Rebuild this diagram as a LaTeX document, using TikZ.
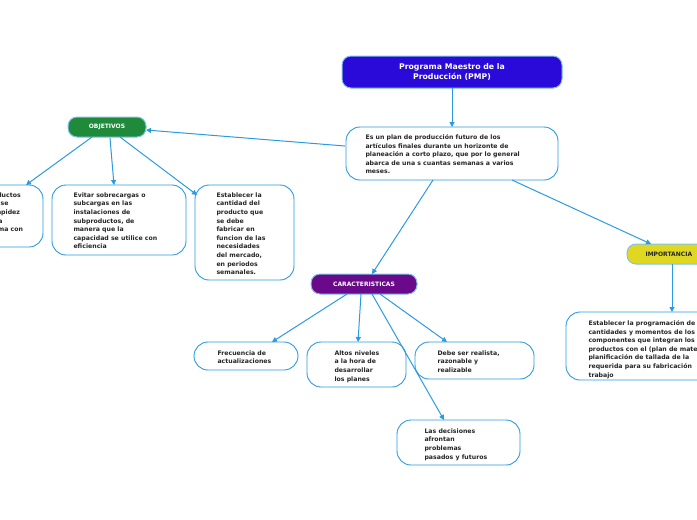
\documentclass[tikz,border=0pt]{standalone}
\usepackage{fontspec}
\setmainfont{DejaVu Sans}
\usetikzlibrary{arrows.meta}
\definecolor{ln}{HTML}{2A9BE0}
\definecolor{pmp}{HTML}{2A0AD8}
\definecolor{obj}{HTML}{1E8A3A}
\definecolor{car}{HTML}{6A0A8A}
\definecolor{imp}{HTML}{E0D820}
\begin{document}
\begin{tikzpicture}[x=1pt,y=-1pt,
 txt/.style={font=\bfseries\fontsize{6.2}{8.6}\selectfont,align=left,text=black!85},
 box/.style={draw=ln,line width=0.9pt,rounded corners=14pt,fill=white},
 head/.style={draw=ln!60,line width=1pt,rounded corners=9pt},
 con/.style={draw=ln,line width=1pt,-{Triangle[length=5pt,width=5pt]}}]
\useasboundingbox (0,0) rectangle (697,520);
\clip (0,0) rectangle (697,520);
% heads
\draw[head,fill=pmp] (342,56) rectangle (562,88);
\node[font=\bfseries\fontsize{7.8}{10}\selectfont,text=white,align=center] (pmp) at (452,72) {Programa Maestro de la\\Producción (PMP)};
\coordinate (pmpS) at (452,88);
\draw[head,fill=obj] (68,117) rectangle (146,137);
\node[font=\bfseries\fontsize{6}{8}\selectfont,text=white] (obj) at (107,127) {OBJETIVOS};
\draw[head,fill=car] (311,274) rectangle (417,294);
\node[font=\bfseries\fontsize{6}{8}\selectfont,text=white] (car) at (364,284) {CARACTERISTICAS};
\draw[head,fill=imp] (627,244) rectangle (720,264);
\node[font=\bfseries\fontsize{6}{8}\selectfont,text=black!85,anchor=west] (imp) at (642,254) {IMPORTANCIA};
% boxes
\draw[box] (346,127) rectangle (558,180);
\node[txt,anchor=north west] (main) at (362,131) {Es un plan de producción futuro de los\\artículos finales durante un horizonte de\\planeación a corto plazo, que por lo general\\abarca de una s cuantas semanas a varios\\meses.};
\draw[box] (-40,185) rectangle (43,247);
\node[txt,anchor=north west] (o1) at (-18,189) {productos\\que se\\la rapidez\\de la\\misma con};
\draw[box] (52,185) rectangle (186,255);
\node[txt,anchor=north west] (o2) at (70,189) {Evitar sobrecargas o\\subcargas en las\\instalaciones de\\subproductos, de\\manera que la\\capacidad se utilice con\\eficiencia};
\draw[box] (195,185) rectangle (294,280);
\node[txt,anchor=north west] (o3) at (213,189) {Establecer la\\cantidad del\\producto que\\se debe\\fabricar en\\funcion de las\\necesidades\\del mercado,\\en periodos\\semanales.};
\draw[box] (194,342) rectangle (298,370);
\node[txt,anchor=north west] (c1) at (214,347) {Frecuencia de\\actualizaciones};
\draw[box] (307,342) rectangle (406,387);
\node[txt,anchor=north west] (c2) at (331,347) {Altos niveles\\a la hora de\\desarrollar\\los planes};
\draw[box] (415,342) rectangle (534,379);
\node[txt,anchor=north west] (c3) at (434,347) {Debe ser realista,\\razonable y\\realizable};
\draw[box] (397,420) rectangle (520,465);
\node[txt,anchor=north west] (c4) at (421,425) {Las decisiones\\afrontan\\problemas\\pasados y futuros};
\draw[box] (566,312) rectangle (740,380);
\node[txt,anchor=north west] (i1) at (585,317) {Establecer la programación de\\cantidades y momentos de los\\componentes que integran los\\productos con el (plan de materiales)\\planificación de tallada de la\\requerida para su fabricación\\trabajo};
% connectors
\coordinate (a1) at (452,127);
\draw[con] (pmpS) -- (a1);
\coordinate (m1) at (345,146); \coordinate (ob) at (146,130);
\draw[con] (m1) -- (ob);
\coordinate (ob1) at (92,137); \coordinate (t1) at (26,185);
\coordinate (ob2) at (110,138); \coordinate (t2) at (114,185);
\coordinate (ob3) at (120,137); \coordinate (t3) at (197,195);
\draw[con] (ob1) -- (t1);
\draw[con] (ob2) -- (t2);
\draw[con] (ob3) -- (t3);
\coordinate (m2) at (433,180); \coordinate (cn) at (372,274);
\draw[con] (m2) -- (cn);
\coordinate (m3) at (512,180); \coordinate (im) at (651,244);
\draw[con] (m3) -- (im);
\coordinate (cs1) at (347,294); \coordinate (d1) at (272,342);
\coordinate (cs2) at (361,294); \coordinate (d2) at (358,342);
\coordinate (cs3) at (380,294); \coordinate (d3) at (447,342);
\coordinate (cs4) at (372,294); \coordinate (d4) at (444,420);
\draw[con] (cs1) -- (d1);
\draw[con] (cs2) -- (d2);
\draw[con] (cs3) -- (d3);
\draw[con] (cs4) -- (d4);
\coordinate (is) at (672,264); \coordinate (id) at (672,312);
\draw[con] (is) -- (id);
\end{tikzpicture}
\end{document}
